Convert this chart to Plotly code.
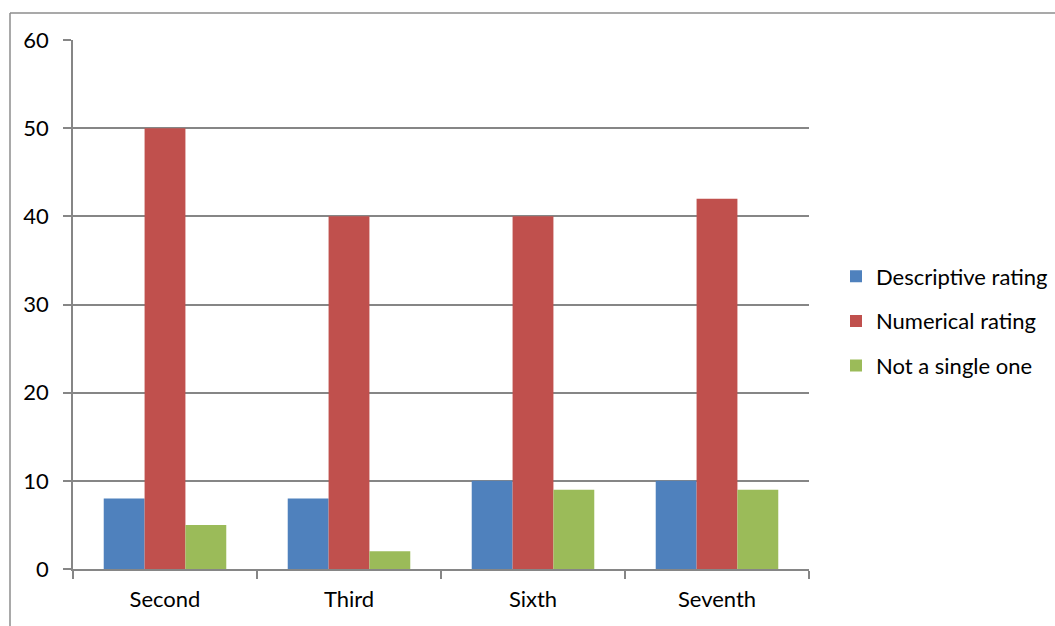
import plotly.graph_objects as go

categories = ["Second", "Third", "Sixth", "Seventh"]
descriptive = [8, 8, 10, 10]
numerical = [50, 40, 40, 42]
not_single = [5, 2, 9, 9]

series = [
    ("Descriptive rating", descriptive, "#4F81BD"),
    ("Numerical rating", numerical, "#C0504D"),
    ("Not a single one", not_single, "#9BBB59"),
]

FONT = "Lato"
FS = 22
GRID = "#868686"

fig = go.Figure()
for i, (name, vals, color) in enumerate(series):
    fig.add_trace(go.Bar(
        x=categories, y=vals, name=name,
        marker=dict(color=color, line=dict(width=0)),
        legendgroup=f"g{i}",
    ))

# plot area geometry in pixels (for the outer frame lines)
L, R, T, B = 73, 246, 40, 57
W, H = 1055, 626
pw, ph = W - L - R, H - T - B


def px_x(px):
    return (px - L) / pw


def px_y(py):
    return (H - B - py) / ph


fig.update_layout(
    width=W, height=H,
    margin=dict(l=L, r=R, t=T, b=B, pad=0, autoexpand=False),
    paper_bgcolor="white", plot_bgcolor="white",
    barmode="group", bargap=0.334, bargroupgap=0,
    font=dict(family=FONT, size=FS, color="#000000"),
    showlegend=True,
    legend=dict(
        x=px_x(836), y=px_y(321), xanchor="left", yanchor="middle",
        font=dict(family=FONT, size=FS, color="#000000"),
        tracegroupgap=13, bgcolor="rgba(0,0,0,0)",
    ),
    xaxis=dict(
        type="category", showgrid=False,
        showline=True, linecolor=GRID, linewidth=1.5,
        ticks="outside", tickson="boundaries", ticklen=8,
        tickcolor=GRID, tickwidth=1.5, ticklabelstandoff=10,
        tickfont=dict(family=FONT, size=FS, color="#000000"),
    ),
    yaxis=dict(
        range=[0, 60], dtick=10, showgrid=True, gridcolor=GRID, gridwidth=1.5,
        showline=True, linecolor=GRID, linewidth=1.5,
        ticks="outside", ticklen=8, tickcolor=GRID, tickwidth=1.5,
        ticklabelstandoff=10, zeroline=False,
        tickfont=dict(family=FONT, size=FS, color="#000000"),
    ),
    shapes=[
        dict(type="line", xref="paper", yref="paper",
             x0=px_x(10), x1=px_x(1060), y0=px_y(13), y1=px_y(13),
             line=dict(color="#8C8C8C", width=1.5)),
        dict(type="line", xref="paper", yref="paper",
             x0=px_x(10), x1=px_x(10), y0=px_y(13), y1=px_y(630),
             line=dict(color="#8C8C8C", width=1.5)),
    ],
)

fig.write_html("out.html")
